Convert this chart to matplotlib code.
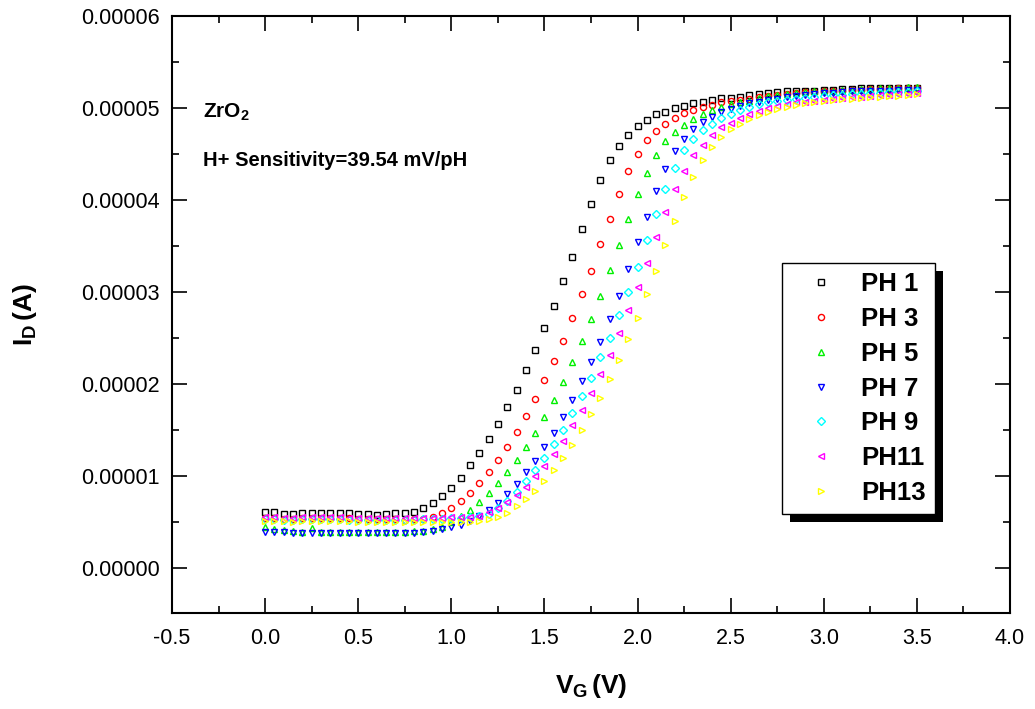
import numpy as np
import matplotlib
matplotlib.use("Agg")
import matplotlib.pyplot as plt
from matplotlib.patches import Rectangle
from matplotlib.ticker import MultipleLocator, FuncFormatter

plt.rcParams['font.family'] = ['Liberation Sans', 'DejaVu Sans']
plt.rcParams['mathtext.fontset'] = 'custom'
plt.rcParams['mathtext.rm'] = 'Liberation Sans'
plt.rcParams['mathtext.bf'] = 'Liberation Sans:bold'
plt.rcParams['mathtext.it'] = 'Liberation Sans:italic'

# Gate voltage sweep 0 .. 3.5 V in 50 mV steps
vg = np.linspace(0.0, 3.5, 71)

# Drain current (uA) for each buffer solution
id_ph1 = [6.05, 6.05, 5.87, 5.87, 5.95, 6.02, 5.95, 6.02, 6.02, 5.95, 5.87, 5.87, 5.80, 5.87, 6.02, 6.02, 6.09,
          6.47, 7.05, 7.82, 8.74, 9.80, 11.15, 12.5, 14.0, 15.7, 17.5, 19.35, 21.5, 23.7, 26.1, 28.5, 31.2, 33.8, 36.8, 39.6, 42.2,
          44.3, 45.9, 47.1, 48.0, 48.7, 49.3, 49.6, 50.0, 50.25, 50.5, 50.7, 50.85, 51.05, 51.1, 51.25, 51.4, 51.5,
          51.6, 51.7, 51.8, 51.8, 51.9, 51.9, 52.0, 52.0, 52.1, 52.1, 52.2, 52.2, 52.2, 52.2, 52.2, 52.2, 52.2]
id_ph3 = [5.45, 5.40, 5.35, 5.35, 5.40, 5.45, 5.40, 5.45, 5.45, 5.40, 5.35, 5.35, 5.30, 5.30, 5.30, 5.25, 5.30, 5.35,
          5.50, 5.95, 6.56, 7.30, 8.20, 9.19, 10.4, 11.75, 13.2, 14.8, 16.5, 18.4, 20.4, 22.45, 24.7, 27.2, 29.8, 32.3, 35.2,
          37.9, 40.7, 43.1, 45.0, 46.5, 47.5, 48.3, 48.9, 49.5, 49.8, 50.1, 50.3, 50.65, 50.8, 50.9, 51.0, 51.2,
          51.3, 51.4, 51.5, 51.6, 51.7, 51.7, 51.8, 51.9, 51.9, 52.0, 52.0, 52.1, 52.1, 52.1, 52.2, 52.2, 52.2]
id_ph5 = [4.45, 4.20, 4.10, 4.00, 3.95, 4.30, 3.95, 3.95, 3.95, 3.95, 3.95, 3.95, 3.95, 3.95, 3.95, 3.95, 4.00, 4.05,
          4.20, 4.50, 5.00, 5.60, 6.30, 7.15, 8.10, 9.20, 10.4, 11.7, 13.15, 14.7, 16.4, 18.3, 20.2, 22.4, 24.7, 27.05, 29.6,
          32.4, 35.1, 37.9, 40.7, 42.9, 44.9, 46.4, 47.4, 48.2, 48.8, 49.3, 49.8, 50.1, 50.4, 50.6, 50.8, 51.1,
          51.3, 51.4, 51.5, 51.6, 51.7, 51.8, 51.9, 51.9, 52.0, 52.0, 52.1, 52.1, 52.2, 52.2, 52.2, 52.3, 52.3]
id_ph7 = [3.95, 3.90, 3.90, 3.85, 3.85, 3.75, 3.85, 3.85, 3.85, 3.85, 3.85, 3.85, 3.85, 3.85, 3.85, 3.85, 3.85, 3.90, 4.05,
          4.20, 4.43, 4.70, 5.15, 5.60, 6.27, 7.10, 8.00, 9.10, 10.4, 11.6, 13.1, 14.7, 16.4, 18.3, 20.3, 22.4, 24.6,
          27.1, 29.6, 32.45, 35.4, 38.2, 41.0, 43.4, 45.3, 46.6, 47.7, 48.5, 49.0, 49.6, 49.9, 50.2, 50.5, 50.7,
          50.9, 51.0, 51.2, 51.3, 51.4, 51.5, 51.6, 51.6, 51.7, 51.8, 51.8, 51.9, 51.9, 51.9, 52.0, 52.0, 52.0]
id_ph9 = [5.35, 5.30, 5.25, 5.25, 5.30, 5.30, 5.30, 5.30, 5.30, 5.25, 5.25, 5.25, 5.20, 5.25, 5.25, 5.25, 5.25, 5.30, 5.30, 5.35, 5.40, 5.45,
          5.50, 5.60, 5.90, 6.50, 7.30, 8.30, 9.40, 10.7, 12.0, 13.45, 15.0, 16.8, 18.7, 20.7, 22.9,
          25.0, 27.5, 30.0, 32.7, 35.7, 38.5, 41.2, 43.5, 45.4, 46.6, 47.6, 48.3, 48.9, 49.4, 49.8, 50.1, 50.4,
          50.6, 50.8, 50.9, 51.0, 51.1, 51.2, 51.3, 51.4, 51.4, 51.5, 51.5, 51.6, 51.6, 51.7, 51.7, 51.7, 51.8]
id_ph11 = [5.50, 5.50, 5.45, 5.45, 5.50, 5.55, 5.50, 5.50, 5.50, 5.45, 5.45, 5.45, 5.40, 5.45, 5.45, 5.45, 5.45, 5.45, 5.45, 5.45, 5.50, 5.50, 5.55,
           5.65, 6.05, 6.50, 7.20, 7.90, 8.80, 10.0, 11.1, 12.4, 13.8, 15.5, 17.2, 19.0, 21.1,
           23.2, 25.5, 28.0, 30.5, 33.2, 36.0, 38.7, 41.2, 43.2, 44.9, 46.0, 47.1, 47.9, 48.4, 48.9, 49.4, 49.7,
           50.0, 50.2, 50.4, 50.6, 50.7, 50.8, 50.9, 51.0, 51.1, 51.2, 51.2, 51.3, 51.4, 51.4, 51.5, 51.5, 51.6]
id_ph13 = [5.10, 5.05, 5.05, 5.00, 5.05, 5.05, 5.05, 5.05, 5.05, 5.05, 5.00, 5.00, 5.00, 5.00, 5.00, 5.00, 5.00, 5.00, 5.00, 5.00, 5.00, 5.00, 5.00,
           5.10, 5.27, 5.50, 6.00, 6.70, 7.50, 8.40, 9.40, 10.6, 11.9, 13.4, 15.0, 16.7, 18.5,
           20.5, 22.6, 24.9, 27.2, 29.8, 32.3, 35.1, 37.7, 40.3, 42.5, 44.4, 45.8, 46.8, 47.7, 48.3, 48.8, 49.2,
           49.6, 49.9, 50.1, 50.3, 50.5, 50.6, 50.8, 50.9, 51.0, 51.0, 51.1, 51.2, 51.2, 51.3, 51.3, 51.4, 51.5]

labels = ["PH 1", "PH 3", "PH 5", "PH 7", "PH 9", "PH11", "PH13"]
series = [id_ph1, id_ph3, id_ph5, id_ph7, id_ph9, id_ph11, id_ph13]
colors = ["#000000", "#FF0000", "#00F000", "#0000FF", "#00FFFF", "#FF00FF", "#FFFF00"]
markers = ["s", "o", "^", "v", "D", "<", ">"]
msizes = [3.8, 4.4, 4.8, 4.8, 4.0, 4.8, 4.8]

fig = plt.figure(figsize=(10.35, 7.09), dpi=100)
ax = fig.add_axes([0.1662, 0.1354, 0.8096, 0.8420])

handles = []
for lab, ys, c, m, ms in zip(labels, series, colors, markers, msizes):
    h, = ax.plot(vg, np.asarray(ys) * 1e-6, linestyle="none", marker=m, markersize=ms,
                 markerfacecolor="none", markeredgecolor=c, markeredgewidth=1.0, label=lab)
    handles.append(h)

ax.set_xlim(-0.5, 4.0)
ax.set_ylim(-4.9e-6, 6e-5)
ax.xaxis.set_major_locator(MultipleLocator(0.5))
ax.xaxis.set_minor_locator(MultipleLocator(0.25))
ax.yaxis.set_major_locator(MultipleLocator(1e-5))
ax.yaxis.set_minor_locator(MultipleLocator(5e-6))
ax.xaxis.set_major_formatter(FuncFormatter(lambda v, p: f"{v:.1f}"))
ax.yaxis.set_major_formatter(FuncFormatter(lambda v, p: f"{v:.5f}"))

ax.tick_params(which="both", direction="in", top=True, right=True, width=1.2)
ax.tick_params(which="major", length=11, labelsize=15.5)
ax.tick_params(axis="x", which="major", pad=11)
ax.tick_params(axis="y", which="major", pad=9)
ax.tick_params(which="minor", length=5)
for sp in ax.spines.values():
    sp.set_linewidth(1.5)

ax.set_xlabel(r"$\mathbf{V_{G}\,(V)}$", fontsize=19, labelpad=16)
ax.set_ylabel(r"$\mathbf{I_{D}\,(A)}$", fontsize=19, labelpad=30)

ax.text(-0.335, 4.95e-5, r"$\mathbf{ZrO_{2}}$", fontsize=15, va="center", ha="left")
ax.text(-0.335, 4.43e-5, "H+ Sensitivity=39.54 mV/pH", fontsize=14.5, fontweight="bold",
        va="center", ha="left")

leg = ax.legend(handles=handles, loc="upper left", bbox_to_anchor=(0.728, 0.586),
                frameon=True, fancybox=False, edgecolor="black", framealpha=1,
                prop={"weight": "bold", "size": 18.5}, handlelength=2.3, handletextpad=0.43,
                labelspacing=0.42, borderpad=0.35, borderaxespad=0.0, markerscale=1.0)
leg.get_frame().set_linewidth(1.0)
leg.set_zorder(6)

# solid drop shadow behind the legend box
fig.canvas.draw()
bb = leg.get_frame().get_window_extent()
inv = ax.transAxes.inverted()
(x0, y0), (x1, y1) = inv.transform([[bb.x0 + 8, bb.y0 - 8], [bb.x1 + 8, bb.y1 - 8]])
ax.add_patch(Rectangle((x0, y0), x1 - x0, y1 - y0, transform=ax.transAxes,
                       facecolor="black", edgecolor="none", zorder=5.5, clip_on=False))

fig.savefig("out.png", dpi=100)
